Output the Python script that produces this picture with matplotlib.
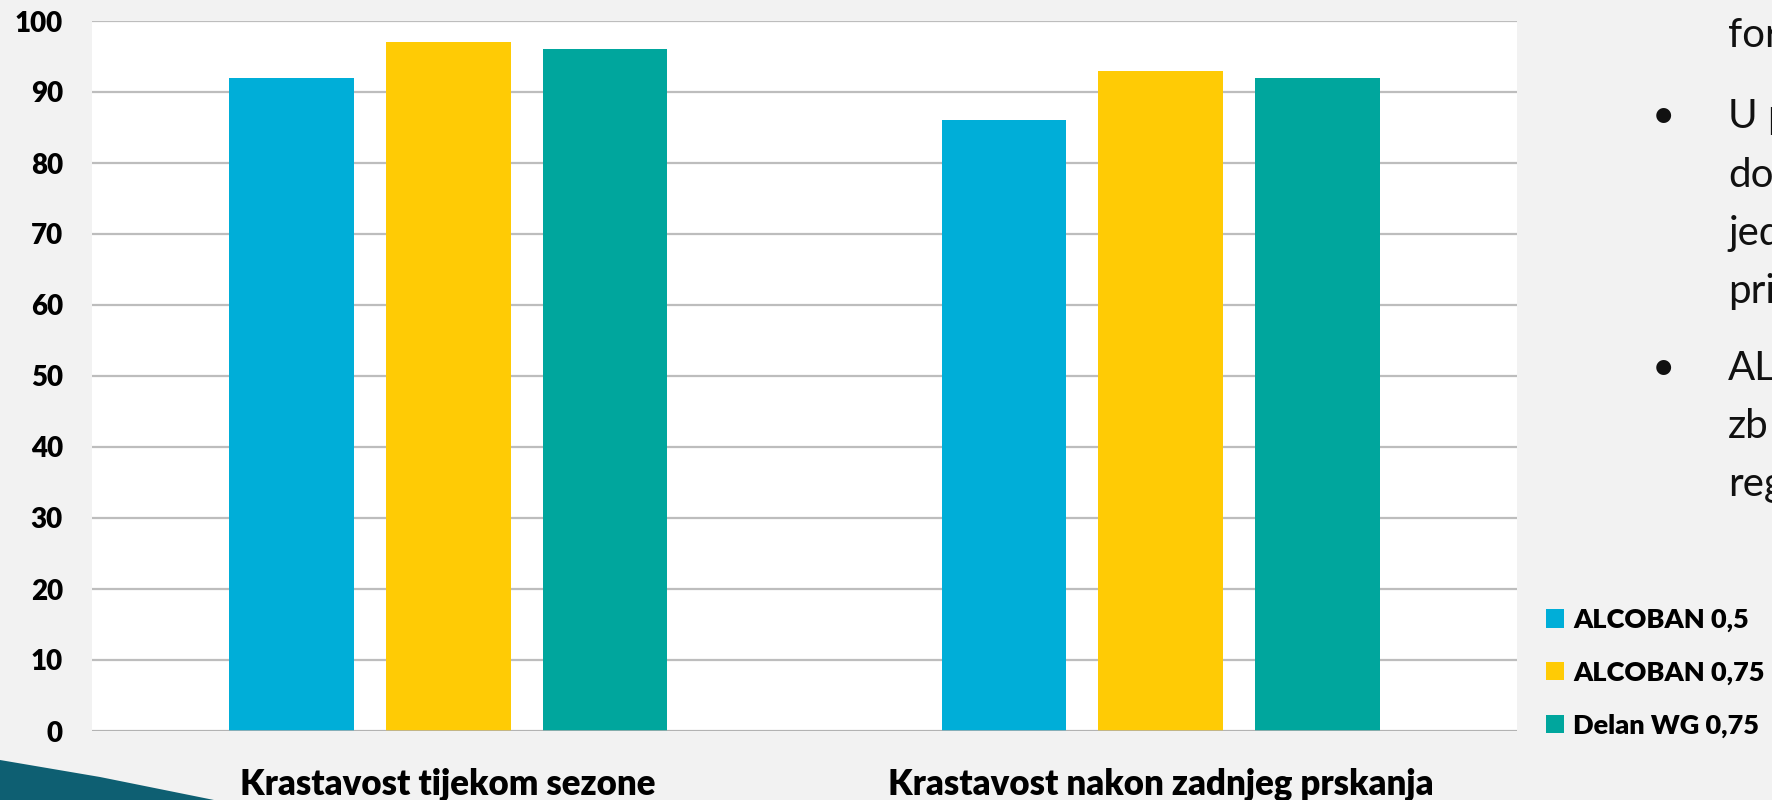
import matplotlib
matplotlib.use("Agg")
import matplotlib.pyplot as plt
import numpy as np
from matplotlib.patches import Polygon

categories = ["Krastavost tijekom sezone", "Krastavost nakon zadnjeg prskanja"]
series_names = ["ALCOBAN 0,5", "ALCOBAN 0,75", "Delan WG 0,75"]
alcoban_05 = [92, 86]
alcoban_075 = [97, 93]
delan_075 = [96, 92]
y_ticks = [0, 10, 20, 30, 40, 50, 60, 70, 80, 90, 100]
side_text = ["for", "U p", "do", "jed", "pri", "AL", "zb", "reg"]

colors = ["#00AED8", "#FFCB05", "#00A69D"]
font = ["Lato", "DejaVu Sans"]
plt.rcParams["font.family"] = font
plt.rcParams["font.weight"] = "heavy"

W, H = 1772, 800
fig = plt.figure(figsize=(W / 100, H / 100), dpi=100)
fig.patch.set_facecolor("#F2F2F2")

# decorative corner shape
corner = Polygon([(0, 40 / H), (100 / W, 23 / H), (214 / W, 0), (0, 0)],
                 closed=True, transform=fig.transFigure, facecolor="#0E5F72",
                 edgecolor="none", zorder=0)
fig.patches.append(corner)

ax = fig.add_axes([92 / W, 1 - 731 / H, (1517 - 92) / W, (731 - 21) / H])
ax.set_facecolor("white")

x = np.arange(len(categories))
bw = 0.175
step = 0.22
for i, (vals, name) in enumerate(zip([alcoban_05, alcoban_075, delan_075], series_names)):
    ax.bar(x + (i - 1) * step, vals, width=bw, color=colors[i], label=name, zorder=3)

ax.set_xlim(-0.5, 1.5)
ax.set_ylim(0, 100)
ax.set_yticks(y_ticks)
ax.yaxis.grid(True, color="#BDBDBD", linewidth=1.6, zorder=1)
ax.set_axisbelow(True)
for s in ax.spines.values():
    s.set_visible(False)
ax.axhline(0, color="#B0B0B0", linewidth=1.8, zorder=4)
ax.set_xticks(x)
ax.set_xticklabels(categories)
ax.tick_params(axis="y", length=0, pad=21, labelsize=20)
ax.tick_params(axis="x", length=0, pad=26, labelsize=25)

leg = fig.legend(loc="upper left", bbox_to_anchor=(1546 / W, 1 - 608 / H),
                 frameon=False, prop={"family": font, "weight": "heavy", "size": 19.5},
                 handlelength=0.67, handleheight=0.67, handletextpad=0.33,
                 labelspacing=1.05, borderaxespad=0, borderpad=0)

# cut-off slide text on the right (clipped by the figure edge, as in the slide)
baselines = [47, 128, 187, 245, 303, 380, 438, 496]
for t, yy in zip(side_text, baselines):
    fig.text(1728 / W, 1 - yy / H, t, fontsize=29, fontweight="normal",
             va="baseline", ha="left", color="#111111")
for yy in [128, 380]:
    fig.text(1663 / W, 1 - yy / H, "•", fontsize=29, fontweight="normal",
             va="baseline", ha="center", color="#111111")

fig.savefig("out.png", dpi=100, facecolor=fig.get_facecolor())
